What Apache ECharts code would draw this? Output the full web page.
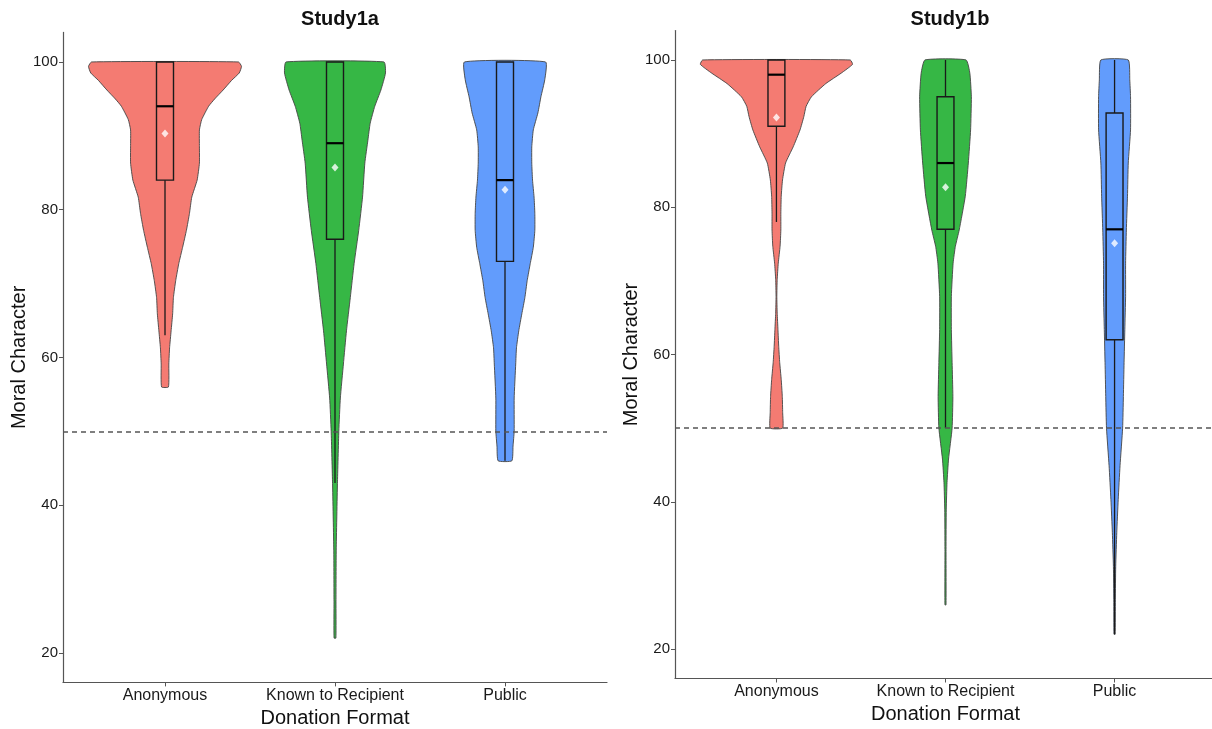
<!DOCTYPE html>
<html>
<head>
<meta charset="utf-8">
<script src="https://cdn.jsdelivr.net/npm/echarts@6/dist/echarts.min.js"></script>
<style>
html,body{margin:0;padding:0;background:#fff;}
#chart{width:1212px;height:729px;}
</style>
</head>
<body>
<div id="chart"></div>
<script>
// ---------- DATA ----------
const categories = ['Anonymous', 'Known to Recipient', 'Public'];
const panelTitles = ['Study1a', 'Study1b'];
const yTicks = [20, 40, 60, 80, 100];
const refLine = 50;

// Violin outlines: y values and relative half-widths (1 = widest violin of the panel)
const s1aAnonY = [100, 99.4, 98.5, 97.5, 96.2, 95, 94, 92.2, 90.8, 88.5, 86.3, 84, 81.7, 79.5, 77.2, 74.9, 72.7, 70.4, 68.1, 65.9, 63.6, 61.3, 59.1, 56];
const s1aAnonW = [0.96, 1.0, 0.97, 0.87, 0.76, 0.65, 0.57, 0.48, 0.45, 0.45, 0.45, 0.42, 0.35, 0.32, 0.28, 0.23, 0.18, 0.14, 0.11, 0.10, 0.08, 0.06, 0.05, 0.045];
const s1aKnownY = [100, 98.5, 96.2, 94, 91.7, 89.4, 86.3, 81.7, 77.2, 72.7, 68.1, 63.6, 59.1, 54.5, 50, 42.9, 33.9, 27, 22];
const s1aKnownW = [0.64, 0.66, 0.60, 0.52, 0.46, 0.43, 0.39, 0.36, 0.31, 0.25, 0.20, 0.15, 0.11, 0.07, 0.05, 0.032, 0.016, 0.013, 0.012];
const s1aPublicY = [100, 97.6, 95.3, 93.1, 90.8, 88.5, 86.3, 84, 81.7, 79.5, 77.2, 74.9, 72.7, 70.4, 68.1, 65.9, 63.6, 61.3, 59.1, 54.5, 50, 48, 46];
const s1aPublicW = [0.53, 0.52, 0.47, 0.43, 0.37, 0.35, 0.35, 0.36, 0.38, 0.39, 0.39, 0.37, 0.33, 0.29, 0.26, 0.22, 0.18, 0.15, 0.14, 0.12, 0.12, 0.105, 0.09];

const s1bAnonY = [100, 99.4, 98.2, 96.8, 95, 93.7, 92.3, 90.5, 88.2, 86, 83.7, 81.5, 79.2, 76.9, 74.7, 72.4, 70.2, 67.9, 65.6, 63.4, 61.1, 58.9, 56.6, 54.3, 52.1, 50];
const s1bAnonW = [0.97, 1.0, 0.85, 0.65, 0.46, 0.39, 0.36, 0.31, 0.22, 0.12, 0.08, 0.063, 0.058, 0.058, 0.048, 0.024, 0.01, 0.005, 0.01, 0.02, 0.03, 0.043, 0.063, 0.077, 0.082, 0.082];
const s1bKnownY = [100, 98.2, 95, 90.5, 86, 81.5, 76.9, 74.7, 72.4, 67.9, 63.4, 58.9, 54.3, 50, 45.8, 42.6, 39, 33.5, 26];
const s1bKnownW = [0.27, 0.32, 0.34, 0.33, 0.30, 0.26, 0.18, 0.13, 0.10, 0.077, 0.077, 0.087, 0.097, 0.087, 0.04, 0.02, 0.01, 0.007, 0.007];
const s1bPublicY = [100, 97.3, 95, 90.5, 86, 81.5, 76.9, 72.4, 67.9, 63.4, 58.9, 54.3, 50, 44.9, 40.3, 35.8, 31.2, 26.7, 22];
const s1bPublicW = [0.18, 0.20, 0.21, 0.21, 0.18, 0.17, 0.155, 0.145, 0.145, 0.135, 0.125, 0.116, 0.106, 0.072, 0.048, 0.029, 0.015, 0.01, 0.007];

// Box stats: [lower whisker, Q1, median, Q3, upper whisker]
const s1aBox = [[63, 84, 94, 100, 100], [43, 76, 89, 100, 100], [46, 73, 84, 100, 100]];
const s1bBox = [[78, 91, 98, 100, 100], [50, 77, 86, 95, 100], [22, 62, 77, 92.8, 100]];
// Means
const s1aMean = [90.3, 85.7, 82.7];
const s1bMean = [92.2, 82.7, 75.1];

// ---------- BUILD ----------
const colors = ['#F47B72', '#36B745', '#629CFC'];
const VIOLIN_HALF = 0.45;
const BOX_HALF = 0.05;
const FONT = 'Liberation Sans, Arial, sans-serif';

const panels = [
  { violins: [[s1aAnonY, s1aAnonW], [s1aKnownY, s1aKnownW], [s1aPublicY, s1aPublicW]], box: s1aBox, mean: s1aMean },
  { violins: [[s1bAnonY, s1bAnonW], [s1bKnownY, s1bKnownW], [s1bPublicY, s1bPublicW]], box: s1bBox, mean: s1bMean }
];

const grids = [
  { left: 63, top: 32.4, width: 544, height: 650, containLabel: false, outerBoundsMode: 'none' },
  { left: 675, top: 30.5, width: 541, height: 648, containLabel: false, outerBoundsMode: 'none' }
];

const axisColor = '#555';
const xAxes = grids.map((g, gi) => ({
  type: 'value', gridIndex: gi, min: 0.4, max: 3.6,
  axisLine: { show: true, lineStyle: { color: axisColor, width: 1.2 } },
  axisTick: { show: true, customValues: [1, 2, 3], length: 4, lineStyle: { color: axisColor } },
  axisLabel: { customValues: [1, 2, 3], formatter: v => categories[Math.round(v) - 1] || '', color: '#1a1a1a', fontSize: 16, fontFamily: FONT, margin: 5 },
  splitLine: { show: false },
  name: 'Donation Format', nameLocation: 'middle', nameGap: 20,
  nameTextStyle: { fontSize: 20, color: '#111', fontFamily: FONT }
}));
const yAxes = grids.map((g, gi) => ({
  type: 'value', gridIndex: gi, min: 16, max: 104,
  axisLine: { show: true, lineStyle: { color: axisColor, width: 1.2 } },
  axisTick: { show: true, customValues: yTicks, length: 4, lineStyle: { color: axisColor } },
  axisLabel: { customValues: yTicks, color: '#1a1a1a', fontSize: 15, fontFamily: FONT, margin: 5 },
  splitLine: { show: false },
  name: 'Moral Character', nameLocation: 'middle', nameGap: 33, nameRotate: 90,
  nameTextStyle: { fontSize: 20, color: '#111', fontFamily: FONT }
}));

const series = [];
panels.forEach((p, gi) => {
  series.push({
    type: 'custom', xAxisIndex: gi, yAxisIndex: gi, z: 1,
    data: categories.map((c, i) => [i + 1, 100]),
    encode: { x: 0, y: 1 },
    renderItem: function (params, api) {
      const i = params.dataIndex;
      const ys = p.violins[i][0], ws = p.violins[i][1];
      const cx = i + 1;
      const pts = [];
      for (let k = 0; k < ys.length; k++) pts.push(api.coord([cx - ws[k] * VIOLIN_HALF, ys[k]]));
      for (let k = ys.length - 1; k >= 0; k--) pts.push(api.coord([cx + ws[k] * VIOLIN_HALF, ys[k]]));
      return {
        type: 'polygon',
        shape: { points: pts, smooth: 0.15 },
        style: { fill: colors[i], stroke: '#444', lineWidth: 0.9 }
      };
    },
    markLine: {
      silent: true, symbol: 'none', label: { show: false },
      lineStyle: { type: [5, 4], color: '#555', width: 1.5 },
      data: [{ yAxis: refLine }]
    }
  });
  series.push({
    type: 'custom', xAxisIndex: gi, yAxisIndex: gi, z: 2,
    data: p.box.map((b, i) => [i + 1].concat(b)),
    encode: { x: 0, y: [1, 2, 3, 4, 5] },
    renderItem: function (params, api) {
      const x = api.value(0);
      const lo = api.value(1), q1 = api.value(2), md = api.value(3), q3 = api.value(4), hi = api.value(5);
      const pLo = api.coord([x, lo]), pQ1 = api.coord([x, q1]), pQ3 = api.coord([x, q3]), pHi = api.coord([x, hi]);
      const l = api.coord([x - BOX_HALF, q3]), r = api.coord([x + BOX_HALF, q1]);
      const mL = api.coord([x - BOX_HALF, md]), mR = api.coord([x + BOX_HALF, md]);
      const ls = { stroke: '#1a1a1a', lineWidth: 1.3 };
      return {
        type: 'group',
        children: [
          { type: 'line', shape: { x1: pLo[0], y1: pLo[1], x2: pQ1[0], y2: pQ1[1] }, style: ls },
          { type: 'line', shape: { x1: pQ3[0], y1: pQ3[1], x2: pHi[0], y2: pHi[1] }, style: ls },
          { type: 'rect', shape: { x: l[0], y: l[1], width: r[0] - l[0], height: r[1] - l[1] }, style: { fill: 'none', stroke: '#1a1a1a', lineWidth: 1.4 } },
          { type: 'line', shape: { x1: mL[0], y1: mL[1], x2: mR[0], y2: mR[1] }, style: { stroke: '#000', lineWidth: 2.2 } }
        ]
      };
    }
  });
  series.push({
    type: 'scatter', xAxisIndex: gi, yAxisIndex: gi, z: 3,
    symbol: 'diamond', symbolSize: [7, 8],
    itemStyle: { color: '#fff' },
    data: p.mean.map((m, i) => [i + 1, m])
  });
});

const option = {
  animation: false,
  backgroundColor: '#fff',
  title: [
    { text: panelTitles[0], left: 335, top: 4, textAlign: 'center', textStyle: { fontSize: 20, fontWeight: 'bold', color: '#111', fontFamily: FONT } },
    { text: panelTitles[1], left: 945, top: 4, textAlign: 'center', textStyle: { fontSize: 20, fontWeight: 'bold', color: '#111', fontFamily: FONT } }
  ],
  grid: grids,
  xAxis: xAxes,
  yAxis: yAxes,
  series: series
};

const chart = echarts.init(document.getElementById('chart'), null, { renderer: 'canvas' });
chart.setOption(option);
</script>
</body>
</html>
